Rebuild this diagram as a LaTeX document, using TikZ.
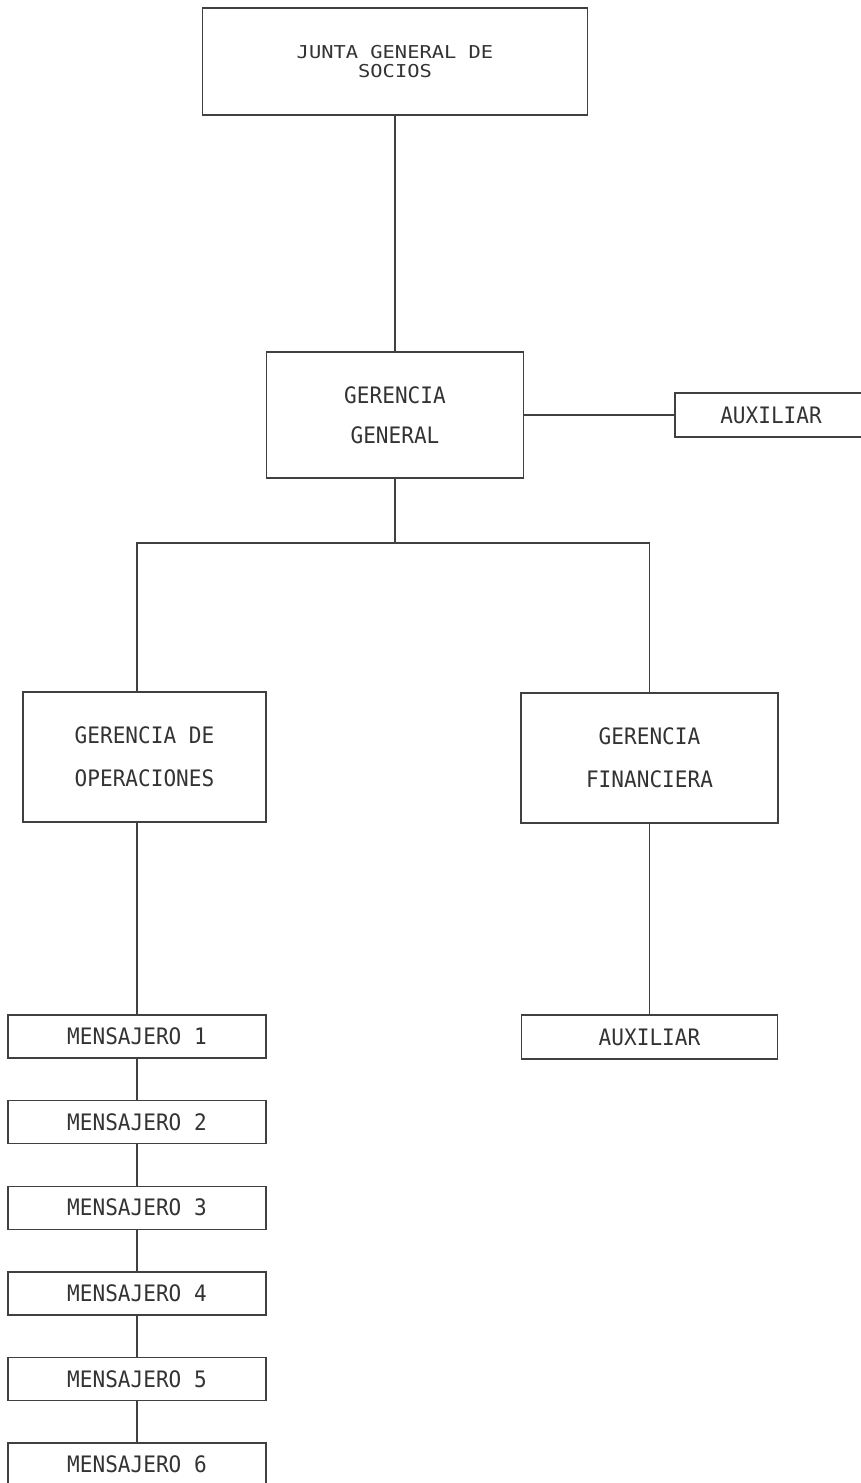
\documentclass[tikz,border=0pt]{standalone}
\usepackage{fontspec}
\newfontfamily\plotter[FakeStretch=0.93]{DejaVu Sans Mono}
\newfontfamily\plotterwide[FakeStretch=1.15]{DejaVu Sans Mono}

\tikzset{
    orgbox/.style={draw=black!75, line width=0.8pt, text=black!80, inner sep=0pt,
        align=center, font=\plotter\fontsize{12.9}{15.5}\selectfont},
    link/.style={draw=black!75, line width=0.8pt},
    msgbox/.style={orgbox, minimum width=5.16cm, minimum height=0.86cm}
}

\begin{document}
\begin{tikzpicture}[x=0.02cm, y=-0.02cm]
        \useasboundingbox (0,0) rectangle (860,1483);

        \node[orgbox, minimum width=7.7cm, minimum height=2.14cm,
              font=\plotterwide\fontsize{10.1}{12}\selectfont]
              (junta) at (395, 61.5) {JUNTA GENERAL DE\\[-1.5pt]SOCIOS};
        \node[orgbox, minimum width=5.14cm, minimum height=2.52cm]
              (gergen) at (395, 415) {GERENCIA\\[7.3pt]GENERAL};
        \node[orgbox, minimum width=3.84cm, minimum height=0.88cm]
              (aux1) at (771, 415) {AUXILIAR};

        \node[orgbox, minimum width=4.86cm, minimum height=2.6cm]
              (geop) at (144.5, 757) {GERENCIA DE\\[9pt]OPERACIONES};
        \node[orgbox, minimum width=5.14cm, minimum height=2.6cm]
              (gefin) at (649.5, 758) {GERENCIA\\[9pt]FINANCIERA};
        \node[orgbox, minimum width=5.12cm, minimum height=0.88cm]
              (aux2) at (649.5, 1037) {AUXILIAR};

        \node[msgbox] (m1) at (137, 1036.5) {MENSAJERO 1};
        \node[msgbox] (m2) at (137, 1122.1) {MENSAJERO 2};
        \node[msgbox] (m3) at (137, 1207.7) {MENSAJERO 3};
        \node[msgbox] (m4) at (137, 1293.3) {MENSAJERO 4};
        \node[msgbox] (m5) at (137, 1378.9) {MENSAJERO 5};
        \node[msgbox] (m6) at (137, 1464.5) {MENSAJERO 6};

        \coordinate (bus) at (395, 543);

        \draw[link] (junta) -- (gergen);
        \draw[link] (gergen) -- (aux1);
        \draw[link] (gergen) -- (bus);
        \draw[link] (bus) -| (geop.north -| m1.north);
        \draw[link] (bus) -| (gefin.north);
        \draw[link] (geop.south -| m1.north) -- (m1);
        \draw[link] (gefin) -- (aux2);
        \draw[link] (m1) -- (m2);
        \draw[link] (m2) -- (m3);
        \draw[link] (m3) -- (m4);
        \draw[link] (m4) -- (m5);
        \draw[link] (m5) -- (m6);
    \end{tikzpicture}
\end{document}
